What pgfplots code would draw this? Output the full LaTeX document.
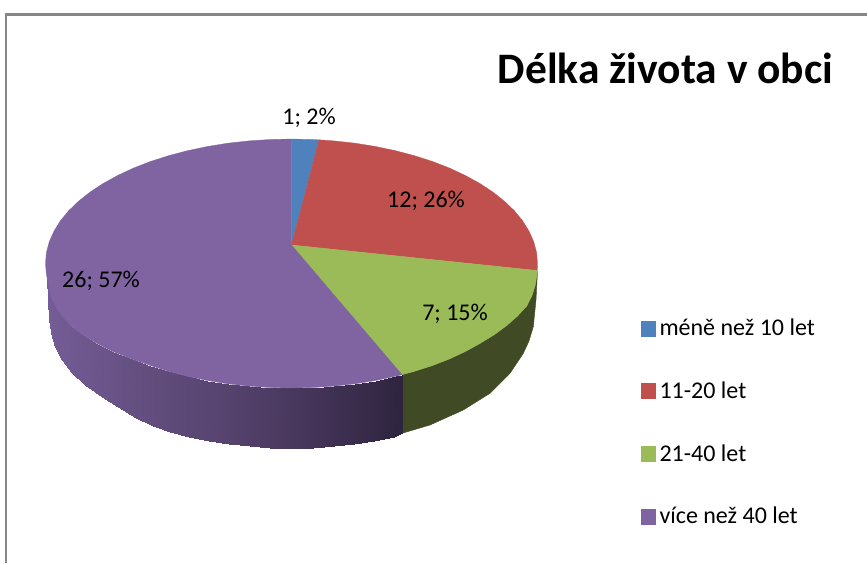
\documentclass[border=0pt]{standalone}
\usepackage{fontspec}
\setmainfont{Carlito}
\usepackage{pgfplots}
\pgfplotsset{compat=1.18}
\definecolor{pblue}{RGB}{79,129,189}
\definecolor{pred}{RGB}{192,80,77}
\definecolor{pgreen}{RGB}{155,187,89}
\definecolor{ppurple}{RGB}{128,100,162}
\definecolor{gside}{RGB}{64,75,38}
\definecolor{framegray}{RGB}{134,134,134}
\begin{document}
\begin{tikzpicture}
\begin{axis}[
  scale only axis, width=867pt, height=563pt,
  xmin=0, xmax=867, ymin=0, ymax=563, y dir=reverse,
  hide axis, no marks,
  colormap={side}{rgb255=(116,92,150) rgb255=(100,79,128) rgb255=(86,67,110) rgb255=(68,52,88) rgb255=(46,36,62)},
  legend style={at={(axis cs:641,317)}, anchor=north west, draw=none, fill=none,
    font=\fontsize{24}{28}\selectfont, row sep=40.5pt, column sep=2pt, inner sep=0pt,
    nodes={anchor=west}},
  legend cell align=left,
  legend image code/.code={\fill[#1] (0pt,-7.5pt) rectangle (14pt,7.5pt);},
]
% page background, so that the picture keeps the full 867 x 563 extent
\addplot[fill=white, draw=none, forget plot] coordinates {(0,0)(867,0)(867,563)(0,563)(0,0)};
% frame
\addplot[framegray, line width=2.6pt, forget plot] coordinates {(6,563)(6,14.5)(867,14.5)};
% green side
\addplot[fill=gside, draw=gside, line width=0.4pt, forget plot] coordinates {
(402,374.7)(414.5,371.3)(432.6,365.5)(449.6,358.9)(465.4,351.5)(479.9,343.5)(494,334.9)(506.5,325.75)(517.5,316.1)(526.7,306.1)(532,295.7)(535.3,285.1)(537.2,270.5)
(537.3,275)(536,300)(533.3,326.7)(529,341)(523.3,353.3)(510,373.3)(490,393.3)(463.3,410)(430,425)(402,433.3)(402,374.7)};
% purple side
\addplot[surf, shader=interp, mesh/rows=2, point meta=x, point meta min=50, point meta max=402, forget plot] table {
x y
402 374.7
395.5 376.3
375.6 380.5
355.2 383.8
334.2 386.1
313 387.5
291.5 388
270 387.5
248.8 386.1
227.8 383.8
207.4 380.5
187.5 376.3
168.5 371.3
150.4 365.5
131.5 358.9
113 351.5
97 343.5
83 334.9
71 325.75
62 316.1
55.5 306.1
50.5 295.7
48.5 285.1
47 278
402 433.3
393.8 436.5
374.3 440.6
354.1 443.8
333.5 446.1
312.6 447.5
291.5 448
270.4 447.5
249.5 446.1
228.9 443.8
208.7 440.6
189.2 436.5
170.5 431.5
152.7 425.8
135.9 417.5
118 407
101.7 396.7
85 385
72 373
61.7 360
55 347
51.7 336.7
49 320
48 300
};
% top faces
\addplot[fill=pblue, draw=pblue, line width=0.3pt] coordinates {(291.5,245)(291.5,139)(313,139.5)(319,139.8)(291.5,245)};
\addlegendentry{méně než 10 let}
\addplot[fill=pred, draw=pred, line width=0.3pt] coordinates {(291.5,245)(319,139.8)(334.2,140.9)(355.2,143.2)(375.6,146.5)(395.5,150.7)(414.5,155.7)(432.6,161.5)(449.6,168.1)(465.4,175.5)(479.9,183.5)(493,192.1)(504.5,201.25)(514.5,210.9)(522.7,220.9)(529.1,231.3)(533.8,241.9)(536.6,252.65)(537.5,263.5)(537.2,270.5)(291.5,245)};
\addlegendentry{11-20 let}
\addplot[fill=pgreen, draw=pgreen, line width=0.3pt] coordinates {(291.5,245)(537.2,270.5)(537,274.35)(535.3,285.1)(532,295.7)(526.7,306.1)(517.5,316.1)(506.5,325.75)(494,334.9)(479.9,343.5)(465.4,351.5)(449.6,358.9)(432.6,365.5)(414.5,371.3)(402,374.7)(291.5,245)};
\addlegendentry{21-40 let}
\addplot[fill=ppurple, draw=ppurple, line width=0.3pt] coordinates {(291.5,245)(402,374.7)(395.5,376.3)(375.6,380.5)(355.2,383.8)(334.2,386.1)(313,387.5)(291.5,388)(270,387.5)(248.8,386.1)(227.8,383.8)(207.4,380.5)(187.5,376.3)(168.5,371.3)(150.4,365.5)(131.5,358.9)(113,351.5)(97,343.5)(83,334.9)(71,325.75)(62,316.1)(55.5,306.1)(50.5,295.7)(48.5,285.1)(46.4,274.35)(45.5,263.5)(46.4,252.65)(49.2,241.9)(53.9,231.3)(60.3,220.9)(68.5,210.9)(78.5,201.25)(90,192.1)(103.1,183.5)(117.6,175.5)(133.4,168.1)(150.4,161.5)(168.5,155.7)(187.5,150.7)(207.4,146.5)(227.8,143.2)(248.8,140.9)(270,139.5)(291.5,139)(291.5,245)};
\addlegendentry{více než 40 let}
% labels
\node[font=\fontsize{43.5}{50}\selectfont\bfseries] at (axis cs:665.5,68.5) {Délka života v obci};
\node[font=\fontsize{24}{28}\selectfont] at (axis cs:309,118) {1; 2\%};
\node[font=\fontsize{24}{28}\selectfont] at (axis cs:426,201) {12; 26\%};
\node[font=\fontsize{24}{28}\selectfont] at (axis cs:455,314) {7; 15\%};
\node[font=\fontsize{24}{28}\selectfont] at (axis cs:101,281) {26; 57\%};
\end{axis}
\end{tikzpicture}
\end{document}
